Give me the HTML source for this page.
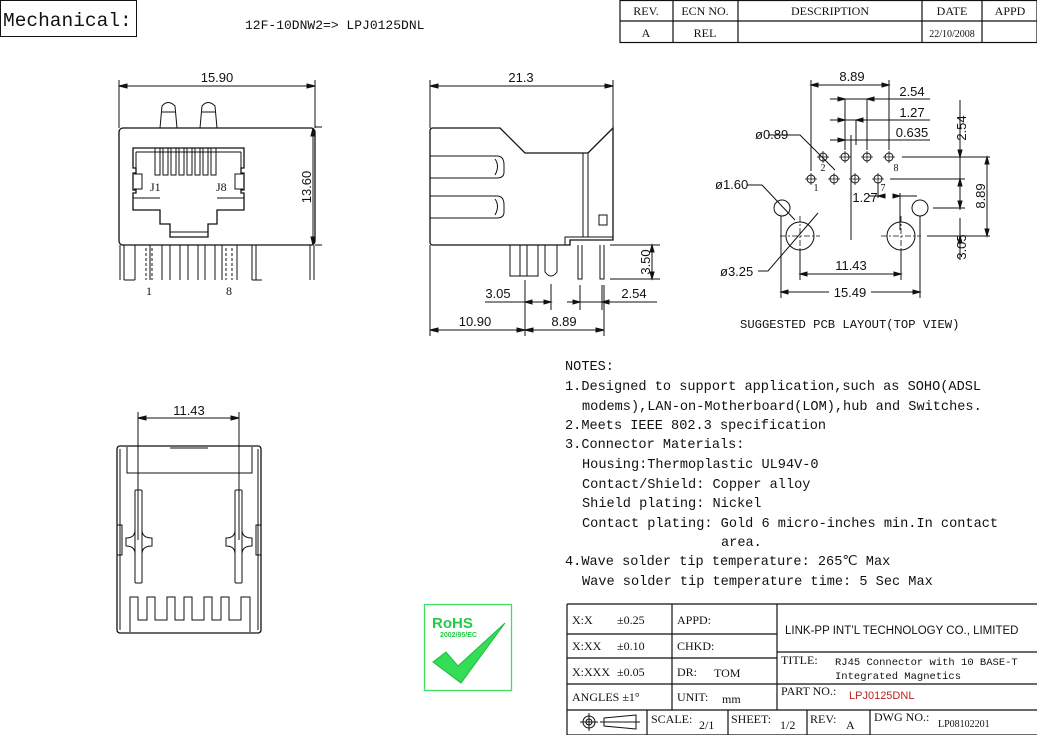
<!DOCTYPE html>
<html><head><meta charset="utf-8"><style>
html,body{margin:0;padding:0;background:#fff;}
svg{display:block;}
text{font-family:"Liberation Serif","Noto Serif CJK SC",serif;fill:#111;}
text.s,.s text{font-family:"Liberation Sans","DejaVu Sans",sans-serif;}
text.m,.m text{font-family:"Liberation Mono","DejaVu Sans Mono",monospace;}
</style></head><body>
<svg width="1037" height="735" viewBox="0 0 1037 735" xmlns="http://www.w3.org/2000/svg" stroke="#111" fill="none" stroke-width="1">
<rect x="0.5" y="0.5" width="136" height="36"/>
<text x="3" y="26" font-size="19.5" class="m" stroke="none">Mechanical:</text>
<text x="245" y="29" font-size="13" class="m" stroke="none">12F-10DNW2=&gt; LPJ0125DNL</text>
<g stroke-width="1.2">
<rect x="620" y="0.5" width="417" height="42"/>
<line x1="620" y1="21" x2="1037" y2="21"/>
<line x1="673" y1="0" x2="673" y2="43"/><line x1="738" y1="0" x2="738" y2="43"/>
<line x1="922" y1="0" x2="922" y2="43"/><line x1="982" y1="0" x2="982" y2="43"/>
</g>
<g stroke="none" font-size="12" text-anchor="middle">
<text x="646" y="15">REV.</text><text x="705" y="15">ECN NO.</text><text x="830" y="15">DESCRIPTION</text><text x="952" y="15">DATE</text><text x="1010" y="15">APPD</text>
<text x="646" y="37">A</text><text x="705" y="37">REL</text><text x="952" y="37" font-size="10">22/10/2008</text>
</g>

<!-- Front view -->
<g stroke-width="1">
<line x1="119" y1="80" x2="119" y2="128"/><line x1="315" y1="80" x2="315" y2="128"/>
<line x1="119" y1="86" x2="315" y2="86"/>
<path d="M119 86l8-2v4zM315 86l-8-2v4z" fill="#111"/>
<text x="217" y="82" font-size="13" class="s" text-anchor="middle" stroke="none">15.90</text>
<path d="M160 128 L162 106 Q168 99 175 106 L177 128 M200 128 L202 106 Q208 99 215 106 L217 128"/>
<line x1="162" y1="112" x2="175" y2="112"/><line x1="202" y1="112" x2="215" y2="112"/>
<rect x="119" y="128" width="196" height="117" rx="4" stroke-width="1.3"/>
<line x1="315" y1="127" x2="322" y2="127"/><line x1="315" y1="245" x2="322" y2="245"/>
<line x1="313" y1="128" x2="313" y2="245"/>
<path d="M313 128l-2 8h4zM313 245l-2-8h4z" fill="#111"/>
<text transform="translate(311,187) rotate(-90)" font-size="13" class="s" text-anchor="middle" stroke="none">13.60</text>
<path d="M133 148 H244 V168 H241 V173 H244 V190 H241 V193 H244 V210 H217 V224 H208 V237 H170 V224 H160 V210 H133 V193 H136 V190 H133 V173 H136 V168 H133 Z" stroke-width="1.3"/>
<path d="M136 152 H241 M136 168 V152 M241 168 V152 M133 198 H160 M217 198 H244 M170 232 H208"/>
<path d="M134 174h8v15h-8 M243 174h-8v15h8"/>
<path d="M155 148V175h5V148 M163 148V175h5V148 M171 148V175h5V148 M179 148V175h5V148 M187 148V175h5V148 M195 148V175h5V148 M203 148V175h5V148 M211 148V175h5V148"/>
<text x="150" y="191" font-size="12" stroke="none">J1</text>
<text x="216" y="191" font-size="12" stroke="none">J8</text>
<path d="M120 245V280 M124 245V280 M135 245V280 M150 245V280 M162 245V280 M170 245V280 M180 245V280 M188 245V280 M198 245V280 M205 245V280 M215 245V280 M222 245V280 M237 245V280 M252 245V280 M256 245V280 M314 245V280 M310 245V280 M124 280H135 M252 280H262"/>
<path d="M146 248V280 M152 248V280 M226 248V280 M232 248V280" stroke-dasharray="3,2"/>
<text x="146" y="295" font-size="12" stroke="none">1</text>
<text x="226" y="295" font-size="12" stroke="none">8</text>
</g>

<!-- Side view -->
<g>
<line x1="430" y1="80" x2="430" y2="128"/><line x1="613" y1="80" x2="613" y2="128"/>
<line x1="430" y1="86" x2="613" y2="86"/>
<path d="M430 86l8-2v4zM613 86l-8-2v4z" fill="#111"/>
<text x="521" y="82" font-size="13" class="s" text-anchor="middle" stroke="none">21.3</text>
<path d="M433 128 H500 L525 153 H588 L613 128 V240 H570 V245 H433 Q430 245 430 242 V131 Q430 128 433 128 Z" stroke-width="1.3"/>
<path d="M583 153 V237 M588 153 V237 M568 237 H613 M565 245 V237 H570"/>
<path d="M430 156 H497 Q504 156 504 165 V172 Q504 178 497 178 H430 M430 196 H497 Q504 196 504 205 V212 Q504 218 497 218 H430"/>
<path d="M495 159 Q500 166 495 175 M495 199 Q500 206 495 215"/>
<rect x="599" y="215" width="8" height="10"/>
<path d="M470 245 H535 M538 245 H550"/>
<rect x="510" y="245" width="28" height="31"/>
<line x1="520" y1="245" x2="520" y2="276"/><line x1="527" y1="245" x2="527" y2="276"/>
<path d="M545 245 V272 Q551 280 557 272 V245"/>
<path d="M578 245V279h4V245 M600 245V279h4V245"/>
<line x1="610" y1="245" x2="660" y2="245"/><line x1="610" y1="279" x2="660" y2="279"/>
<line x1="652" y1="245" x2="652" y2="279"/>
<path d="M652 245l-2 7h4zM652 279l-2-7h4z" fill="#111"/>
<text transform="translate(650,262) rotate(-90)" font-size="13" class="s" text-anchor="middle" stroke="none">3.50</text>
<line x1="525" y1="280" x2="525" y2="336"/><line x1="551" y1="284" x2="551" y2="310"/>
<line x1="485" y1="302" x2="551" y2="302"/>
<path d="M525 302l7-2v4zM551 302l-7-2v4z" fill="#111"/>
<text x="498" y="298" font-size="13" class="s" text-anchor="middle" stroke="none">3.05</text>
<line x1="580" y1="285" x2="580" y2="310"/><line x1="602" y1="285" x2="602" y2="310"/>
<line x1="567" y1="302" x2="657" y2="302"/>
<path d="M580 302l-7-2v4zM602 302l7-2v4z" fill="#111"/>
<text x="634" y="298" font-size="13" class="s" text-anchor="middle" stroke="none">2.54</text>
<line x1="430" y1="245" x2="430" y2="336"/><line x1="604" y1="285" x2="604" y2="336"/>
<line x1="430" y1="330" x2="604" y2="330"/>
<path d="M430 330l8-2v4zM525 330l-8-2v4zM525 330l8-2v4zM604 330l-8-2v4z" fill="#111"/>
<text x="475" y="326" font-size="13" class="s" text-anchor="middle" stroke="none">10.90</text>
<text x="564" y="326" font-size="13" class="s" text-anchor="middle" stroke="none">8.89</text>
</g>

<!-- PCB layout -->
<g>
<circle cx="823" cy="157" r="4"/><circle cx="845" cy="157" r="4"/><circle cx="867" cy="157" r="4"/><circle cx="889" cy="157" r="4"/>
<circle cx="811" cy="179" r="4"/><circle cx="834" cy="179" r="4"/><circle cx="855" cy="179" r="4"/><circle cx="878" cy="179" r="4"/>
<path d="M817 157h12M823 151v12M839 157h12M845 151v12M861 157h12M867 151v12M883 157h12M889 151v12M805 179h12M811 173v12M828 179h12M834 173v12M849 179h12M855 173v12M872 179h12M878 173v12" stroke-width="0.8"/>
<circle cx="782" cy="208" r="8"/><circle cx="920" cy="208" r="8"/>
<circle cx="800" cy="236" r="14"/><circle cx="901" cy="236" r="14"/>
<path d="M780 236H820 M800 216V256 M881 236H921 M901 216V256" stroke-dasharray="6,2,2,2" stroke-width="0.8"/>
<path d="M811 80V171 M889 80V150 M811 85H889"/>
<path d="M811 85l7-2v4zM889 85l-7-2v4z" fill="#111"/>
<text x="852" y="81" font-size="13" class="s" text-anchor="middle" stroke="none">8.89</text>
<path d="M830 99H930 M845 99V150 M867 99V150"/>
<path d="M845 99l-7-2v4zM867 99l7-2v4z" fill="#111"/>
<text x="912" y="96" font-size="13" class="s" text-anchor="middle" stroke="none">2.54</text>
<path d="M830 120H930 M856 120V145"/>
<path d="M845 120l-7-2v4zM856 120l7-2v4z" fill="#111"/>
<text x="912" y="117" font-size="13" class="s" text-anchor="middle" stroke="none">1.27</text>
<path d="M830 140H930 M851 135V240"/>
<path d="M845 140l-7-2v4z" fill="#111"/>
<text x="912" y="137" font-size="13" class="s" text-anchor="middle" stroke="none">0.635</text>
<text x="823" y="171" font-size="10" stroke="none" text-anchor="middle">2</text>
<text x="816" y="191" font-size="10" stroke="none" text-anchor="middle">1</text>
<text x="896" y="171" font-size="10" stroke="none" text-anchor="middle">8</text>
<text x="883" y="191" font-size="10" stroke="none" text-anchor="middle">7</text>
<path d="M878 183V198 M900 193V230 M869 196H878 M900 196H917"/>
<path d="M878 196l7-2v4zM900 196l-7 2v-4z" fill="#111"/>
<text x="865" y="202" font-size="13" class="s" text-anchor="middle" stroke="none">1.27</text>
<path d="M768 135H800 L835 170"/>
<text x="755" y="139" font-size="13" class="s" stroke="none">ø0.89</text>
<path d="M747 185H762 L795 220"/>
<text x="715" y="189" font-size="13" class="s" stroke="none">ø1.60</text>
<path d="M758 271H768 L818 213"/>
<text x="720" y="276" font-size="13" class="s" stroke="none">ø3.25</text>
<path d="M902 157H990 M890 179H965 M933 208H965 M927 236H990 M960 100V210 M960 218V260 M987 157V236"/>
<path d="M960 157l-2-7h4zM960 179l-2 7h4zM960 208l-2-7h4zM960 236l-2 7h4zM987 157l-2 7h4zM987 236l-2-7h4z" fill="#111"/>
<text transform="translate(966,128) rotate(-90)" font-size="13" class="s" text-anchor="middle" stroke="none">2.54</text>
<text transform="translate(985,196) rotate(-90)" font-size="13" class="s" text-anchor="middle" stroke="none">8.89</text>
<text transform="translate(966,247) rotate(-90)" font-size="13" class="s" text-anchor="middle" stroke="none">3.05</text>
<path d="M800 250V280 M901 250V280 M781 216V298 M920 216V298 M800 274H901 M781 292H920"/>
<path d="M800 274l7-2v4zM901 274l-7-2v4zM781 292l7-2v4zM920 292l-7-2v4z" fill="#111"/>
<text x="851" y="270" font-size="13" class="s" text-anchor="middle" stroke="none">11.43</text>
<rect x="829" y="284" width="42" height="14" fill="#fff" stroke="none"/>
<text x="850" y="297" font-size="13" class="s" text-anchor="middle" stroke="none">15.49</text>
<text x="740" y="328" font-size="12.2" class="m" stroke="none">SUGGESTED PCB LAYOUT(TOP VIEW)</text>
</g>

<!-- Bottom view -->
<g>
<path d="M138 412V540 M239 412V540 M138 418H239"/>
<path d="M138 418l8-2v4zM239 418l-8-2v4z" fill="#111"/>
<text x="189" y="415" font-size="13" class="s" text-anchor="middle" stroke="none">11.43</text>
<rect x="117" y="446" width="144" height="187" rx="3" stroke-width="1.3"/>
<path d="M120 449V630 M258 449V630 M127 447V473H252V447 M170 448H208"/>
<rect x="135" y="490" width="7" height="93" rx="1"/>
<rect x="235" y="490" width="7" height="93" rx="1"/>
<path d="M135 530 Q135 538 126 538 V546 Q135 546 135 554 M142 530 Q142 538 152 538 V546 Q142 546 142 554 M235 530 Q235 538 226 538 V546 Q235 546 235 554 M242 530 Q242 538 252 538 V546 Q242 546 242 554"/>
<path d="M117 525h5v30h-5 M261 525h-5v30h5"/>
<path d="M130 632V597h8V620h9V597h8V620h12V597h8V620h9V597h8V620h12V597h8V620h9V597h8V620h12V597h9V632"/>
</g>

<!-- Notes -->
<g class="m" font-size="13.6" stroke="none">
<text x="565" y="370">NOTES:</text>
<text x="565" y="390">1.Designed to support application,such as SOHO(ADSL</text>
<text x="582" y="410">modems),LAN-on-Motherboard(LOM),hub and Switches.</text>
<text x="565" y="429">2.Meets IEEE 802.3 specification</text>
<text x="565" y="448">3.Connector Materials:</text>
<text x="582" y="468">Housing:Thermoplastic UL94V-0</text>
<text x="582" y="488">Contact/Shield: Copper alloy</text>
<text x="582" y="507">Shield plating: Nickel</text>
<text x="582" y="527">Contact plating: Gold 6 micro-inches min.In contact</text>
<text x="721" y="546">area.</text>
<text x="565" y="565">4.Wave solder tip temperature: 265℃ Max</text>
<text x="582" y="585">Wave solder tip temperature time: 5 Sec Max</text>
</g>

<!-- RoHS -->
<rect x="424.5" y="604.5" width="87" height="86" stroke="#3fe060" stroke-width="1.3"/>
<text x="432" y="628" font-size="15" font-weight="bold" class="s" stroke="none" style="fill:#22cc44">RoHS</text>
<text x="440" y="637" font-size="7" font-weight="bold" class="s" stroke="none" style="fill:#22cc44">2002/95/EC</text>
<path d="M433 662 L446 652 L458 666 L505 623 L461 683 Z" fill="#33dd55" stroke="#22bb44"/>

<!-- Title block -->
<g stroke-width="1.2">
<path d="M567 604H1037 M567 634H777 M777 652H1037 M567 658H777 M567 684H1037 M567 710H1037 M567 735H1037 M567 604V735 M672 604V710 M777 604V710"/>
<path d="M647 710V735 M728 710V735 M807 710V735 M870 710V735"/>
</g>
<g font-size="12" stroke="none">
<text x="572" y="624">X:X</text><text x="617" y="624">±0.25</text>
<text x="572" y="650">X:XX</text><text x="617" y="650">±0.10</text>
<text x="572" y="676">X:XXX</text><text x="617" y="676">±0.05</text>
<text x="572" y="701">ANGLES ±1°</text>
<text x="677" y="624">APPD:</text><text x="677" y="650">CHKD:</text>
<text x="677" y="676">DR:</text><text x="714" y="677">TOM</text>
<text x="677" y="701">UNIT:</text><text x="722" y="703">mm</text>
<text x="785" y="634" font-size="11.5" class="s">LINK-PP INT’L TECHNOLOGY CO., LIMITED</text>
<text x="781" y="664">TITLE:</text>
<text x="835" y="665" class="m" font-size="10.5">RJ45 Connector with 10 BASE-T</text>
<text x="835" y="679" class="m" font-size="10.5">Integrated Magnetics</text>
<text x="781" y="695">PART NO.:</text>
<text x="849" y="699" class="s" font-size="11" style="fill:#b22">LPJ0125DNL</text>
<text x="651" y="723">SCALE:</text><text x="699" y="729">2/1</text>
<text x="731" y="723">SHEET:</text><text x="780" y="729">1/2</text>
<text x="810" y="723">REV:</text><text x="846" y="729">A</text>
<text x="874" y="721">DWG NO.:</text>
<text x="938" y="727" font-size="10">LP08102201</text>
</g>
<g stroke-width="1">
<circle cx="589" cy="722" r="6"/><circle cx="589" cy="722" r="3"/>
<path d="M580 722H598 M589 713V731 M604 718 L636 715 V729 L604 726 Z M600 722H640"/>
</g>
</svg>
</body></html>
